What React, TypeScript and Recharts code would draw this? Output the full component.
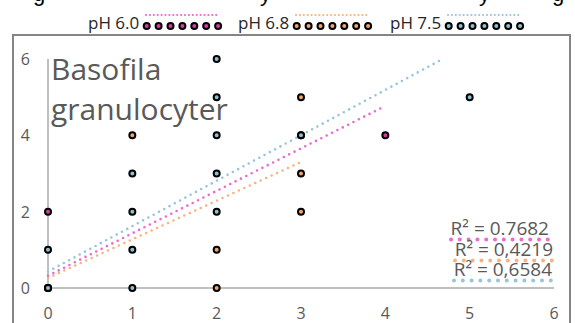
import { Scatter, ScatterChart, XAxis, YAxis } from "recharts";

// points (overlaps hidden under other markers are guessed)
const ph60 = [
  { x: 0, y: 0 },
  { x: 0, y: 2 },
  { x: 3, y: 4 },
  { x: 4, y: 4 },
];
const ph68 = [
  { x: 0, y: 0 },
  { x: 1, y: 4 },
  { x: 2, y: 1 },
  { x: 2, y: 0 },
  { x: 3, y: 5 },
  { x: 3, y: 3 },
  { x: 3, y: 2 },
];
const ph75 = [
  { x: 0, y: 0 },
  { x: 0, y: 1 },
  { x: 1, y: 0 },
  { x: 1, y: 1 },
  { x: 1, y: 2 },
  { x: 1, y: 3 },
  { x: 2, y: 2 },
  { x: 2, y: 3 },
  { x: 2, y: 4 },
  { x: 2, y: 5 },
  { x: 2, y: 6 },
  { x: 3, y: 4 },
  { x: 5, y: 5 },
];

// trendline ends as drawn (blue one stops at the top of the plot)
const trend60 = [
  { x: 0, y: 0.32 },
  { x: 4, y: 4.77 },
];
const trend68 = [
  { x: 0, y: 0.26 },
  { x: 3, y: 3.3 },
];
const trend75 = [
  { x: 0, y: 0.43 },
  { x: 4.68, y: 6 },
];

const seriesNames = ["pH 6.0", "pH 6.8", "pH 7.5"];
const r2Labels = ["R² = 0.7682", "R² = 0,4219", "R² = 0,6584"];
const xTicks = [0, 1, 2, 3, 4, 5, 6];
const yTicks = [0, 2, 4, 6];
const titleLines = ["Basofila", "granulocyter"];

const markerFill = ["#d43ba8", "#f4a468", "#8dbfd3"];
const lineColor = ["#ea6acd", "#f7b281", "#97c5d9"];

const W = 575;
const H = 323;
const font = "'Open Sans', sans-serif";
const grey = "#595959";
const axisGrey = "#bfbfbf";

function dot(fill: string) {
  return (p: any) => (
    <circle cx={p.cx} cy={p.cy} r={3} fill={fill} stroke="#000" strokeWidth={2} />
  );
}

const noDot = () => <g />;

function YTick({ x, y, payload }: any) {
  return (
    <text x={x - 10} y={y} textAnchor="end" dominantBaseline="central" fill={grey} fontSize={16} fontFamily={font}>
      {payload.value}
    </text>
  );
}

function XTick({ x, y, payload }: any) {
  return (
    <text x={x} y={y + 23} textAnchor="middle" fill={grey} fontSize={16} fontFamily={font}>
      {payload.value}
    </text>
  );
}

function Overlay() {
  const legendX = [88, 238, 390];
  const r2End = [549, 553, 552];
  const r2Base = [235, 256, 276];
  return (
    <svg width={W} height={H} style={{ position: "absolute", left: 0, top: 0, pointerEvents: "none" }}>
      {/* descenders of the title above, cut off by the crop */}
      <g fontFamily="'Liberation Sans', sans-serif" fontSize={22} fill="#000">
        <text x={33} y={0.5}>g</text>
        <text x={260} y={0.5}>y</text>
        <text x={479} y={0.5}>y</text>
        <text x={552} y={0.5}>g</text>
      </g>
      <rect x={13} y={35} width={557} height={300} fill="none" stroke="#858585" strokeWidth={2} />

      {seriesNames.map((name, i) => {
        const x0 = legendX[i];
        return (
          <g key={name}>
            <text x={x0} y={29} fontFamily={font} fontSize={17} fill="#262626">
              {name}
            </text>
            <line
              x1={x0 + 58}
              x2={x0 + 132}
              y1={15}
              y2={15}
              stroke={lineColor[i]}
              strokeWidth={2.2}
              strokeDasharray="0 3.9"
              strokeLinecap="round"
            />
            {Array.from({ length: 7 }, (_, k) => (
              <circle key={k} cx={x0 + 58.7 + k * 11.9} cy={26} r={3} fill={markerFill[i]} stroke="#000" strokeWidth={2} />
            ))}
          </g>
        );
      })}

      <text fontFamily={font} fontSize={30} fill={grey}>
        <tspan x={51} y={80}>{titleLines[0]}</tspan>
        <tspan x={51} y={120}>{titleLines[1]}</tspan>
      </text>

      {r2Labels.map((lbl, i) => (
        <g key={lbl}>
          <text x={r2End[i]} y={r2Base[i]} textAnchor="end" fontFamily={font} fontSize={19} fill={grey}>
            {lbl}
          </text>
          <line
            x1={r2End[i] - 98}
            x2={r2End[i] - 1}
            y1={r2Base[i] + 4.5}
            y2={r2Base[i] + 4.5}
            stroke={lineColor[i]}
            strokeWidth={4}
            strokeDasharray="0 8.8"
            strokeLinecap="round"
          />
        </g>
      ))}
    </svg>
  );
}

export default function App() {
  const trendLine = (c: string) => ({
    stroke: c,
    strokeWidth: 2.6,
    strokeDasharray: "0 6",
    strokeLinecap: "round" as const,
  });
  return (
    <div style={{ position: "absolute", left: 0, top: 0, width: W, height: H, background: "#fff" }}>
      <ScatterChart width={W} height={H} margin={{ top: 59, right: 21, bottom: 5, left: 18 }}>
        <XAxis
          type="number"
          dataKey="x"
          domain={[0, 6]}
          ticks={xTicks}
          interval={0}
          height={30}
          tickLine={false}
          axisLine={{ stroke: axisGrey, strokeWidth: 2 }}
          tick={<XTick />}
        />
        <YAxis
          type="number"
          dataKey="y"
          domain={[0, 6]}
          ticks={yTicks}
          interval={0}
          width={30}
          tickLine={false}
          axisLine={{ stroke: axisGrey, strokeWidth: 2 }}
          tick={<YTick />}
        />
        <Scatter data={trend60} line={trendLine(lineColor[0])} shape={noDot} isAnimationActive={false} />
        <Scatter data={trend68} line={trendLine(lineColor[1])} shape={noDot} isAnimationActive={false} />
        <Scatter data={trend75} line={trendLine(lineColor[2])} shape={noDot} isAnimationActive={false} />
        <Scatter name={seriesNames[0]} data={ph60} shape={dot(markerFill[0])} isAnimationActive={false} />
        <Scatter name={seriesNames[1]} data={ph68} shape={dot(markerFill[1])} isAnimationActive={false} />
        <Scatter name={seriesNames[2]} data={ph75} shape={dot(markerFill[2])} isAnimationActive={false} />
      </ScatterChart>
      <Overlay />
    </div>
  );
}
